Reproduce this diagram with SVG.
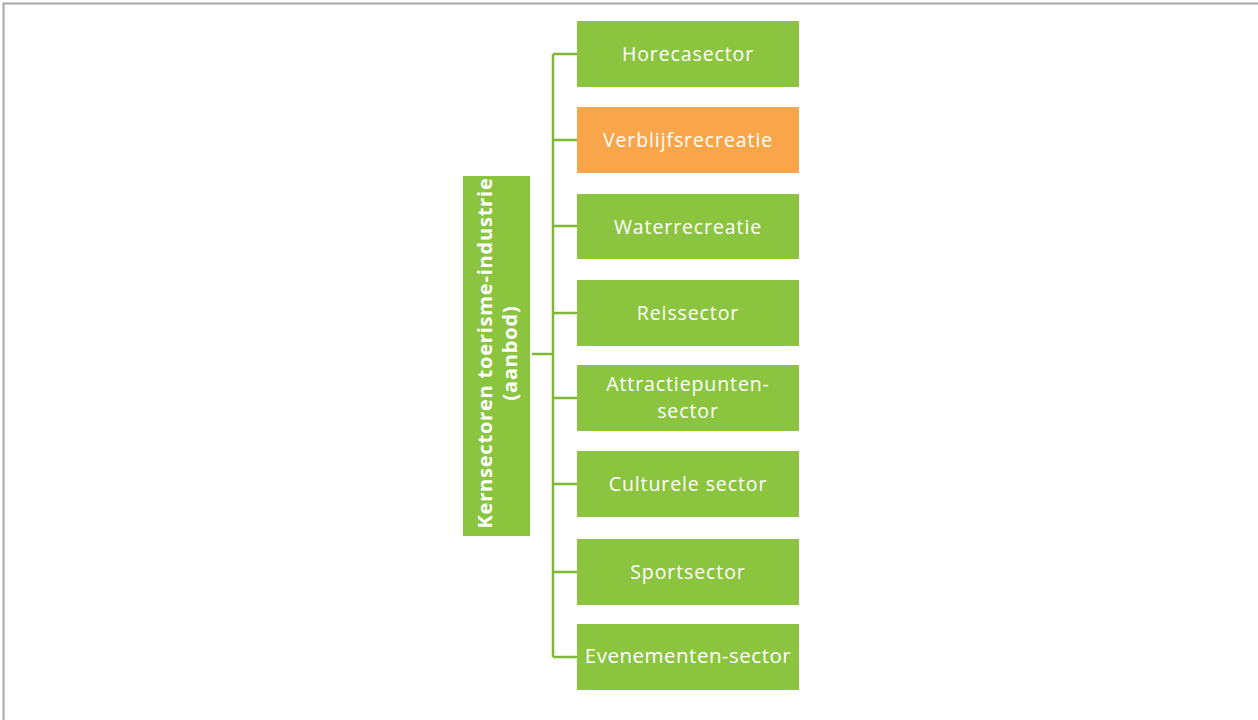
<svg xmlns="http://www.w3.org/2000/svg" width="1258" height="720" viewBox="0 0 1258 720">
<style>
.box{fill:#8BC53F}
.org{fill:#F9A64A}
.t{font-family:"Open Sans","Liberation Sans",sans-serif;font-size:19.5px;fill:#fff;text-anchor:middle;letter-spacing:0.9px}
.v{font-weight:bold;font-size:20px;letter-spacing:0.8px}
.c{stroke:#7DB83A;stroke-width:2.5;fill:none}
</style>
<rect x="3.5" y="3.5" width="1260" height="730" fill="#fff" stroke="#A6A6A6" stroke-width="2"/>
<g id="connectors">
<path class="c" d="M553 54V657M532 354H553M553 54H577M553 140H577M553 226H577M553 313H577M553 398H577M553 484H577M553 572H577M553 657H577"/>
</g>
<g id="root">
<rect class="box" x="463" y="176" width="67" height="360"/>
<text transform="translate(492,353) rotate(-90)" class="t v">Kernsectoren toerisme-industrie</text>
<text transform="translate(517,353) rotate(-90)" class="t v">(aanbod)</text>
</g>
<g id="n1"><rect class="box" x="577" y="21" width="222" height="66"/><text class="t" x="688" y="61">Horecasector</text></g>
<g id="n2"><rect class="org" x="577" y="107" width="222" height="66"/><text class="t" x="688" y="147">Verblijfsrecreatie</text></g>
<g id="n3"><rect class="box" x="577" y="194" width="222" height="65"/><text class="t" x="688" y="234">Waterrecreatie</text></g>
<g id="n4"><rect class="box" x="577" y="280" width="222" height="66"/><text class="t" x="688" y="320">Reissector</text></g>
<g id="n5"><rect class="box" x="577" y="365" width="222" height="66"/><text class="t" x="688" y="391">Attractiepunten-</text><text class="t" x="688" y="418">sector</text></g>
<g id="n6"><rect class="box" x="577" y="451" width="222" height="66"/><text class="t" x="688" y="491">Culturele sector</text></g>
<g id="n7"><rect class="box" x="577" y="539" width="222" height="66"/><text class="t" x="688" y="579">Sportsector</text></g>
<g id="n8"><rect class="box" x="577" y="624" width="222" height="66"/><text class="t" x="688" y="663" style="font-size:20.5px;letter-spacing:0.5px">Evenementen-sector</text></g>
</svg>
